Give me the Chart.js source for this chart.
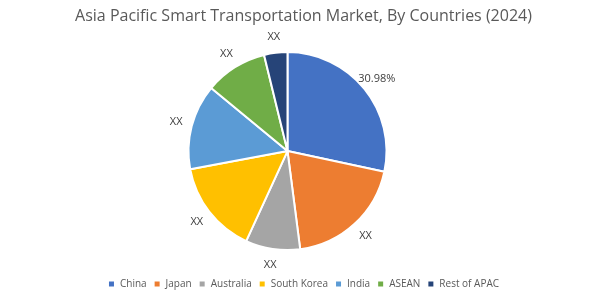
<!doctype html>
<html lang="en">
<head>
  <meta charset="utf-8">
  <title>Asia Pacific Smart Transportation Market</title>
  <script src="https://cdn.jsdelivr.net/npm/chart.js"></script>
  <style>
    body { margin: 0; background: #fff; }
    #wrap { width: 603px; height: 304px; }
  </style>
</head>
<body>
  <div id="wrap"><canvas id="pie"></canvas></div>

  <script>
    const countries = ['China', 'Japan', 'Australia', 'South Korea', 'India', 'ASEAN', 'Rest of APAC'];
    const shares = [28.3, 19.6, 8.9, 15.2, 13.9, 10.2, 3.8];
    const sliceLabels = ['30.98%', 'XX', 'XX', 'XX', 'XX', 'XX', 'XX'];
    const colours = ['#4472C4', '#ED7D31', '#A5A5A5', '#FFC000', '#5B9BD5', '#70AD47', '#264478'];

    // pie sits a bit left of the title/legend centre
    const pieShift = -16;

    // shift the pie and put text just outside each slice
    const outsideLabels = {
      id: 'outsideLabels',
      beforeDatasetsDraw(chart) {
        chart.ctx.save();
        chart.ctx.translate(pieShift, 0);
      },
      afterDatasetsDraw(chart) {
        const ctx = chart.ctx;
        const arcs = chart.getDatasetMeta(0).data;
        ctx.font = '11px "Open Sans", sans-serif';
        ctx.fillStyle = '#404040';
        ctx.textAlign = 'center';
        ctx.textBaseline = 'middle';
        arcs.forEach((arc, i) => {
          const mid = (arc.startAngle + arc.endAngle) / 2;
          const r = arc.outerRadius + 16;
          ctx.fillText(sliceLabels[i], arc.x + Math.cos(mid) * r, arc.y + Math.sin(mid) * r);
        });
        ctx.restore();
      }
    };

    new Chart(document.getElementById('pie'), {
      type: 'pie',
      data: {
        labels: countries,
        datasets: [{
          data: shares,
          backgroundColor: colours,
          borderColor: '#fff',
          borderWidth: 2,
          radius: 99
        }]
      },
      options: {
        responsive: true,
        maintainAspectRatio: false,
        animation: false,
        layout: { padding: { left: 4, right: 0, top: 0, bottom: 5 } },
        plugins: {
          title: {
            display: true,
            text: 'Asia Pacific Smart Transportation Market, By Countries (2024)',
            color: '#595959',
            font: { family: '"Open Sans", sans-serif', size: 16, weight: 'normal' },
            padding: { top: 7, bottom: 4 }
          },
          legend: {
            position: 'bottom',
            labels: {
              color: '#595959',
              font: { family: '"Open Sans", sans-serif', size: 10 },
              boxWidth: 7,
              boxHeight: 7,
              padding: 7
            }
          },
          tooltip: { enabled: false }
        }
      },
      plugins: [outsideLabels]
    });
  </script>
</body>
</html>
